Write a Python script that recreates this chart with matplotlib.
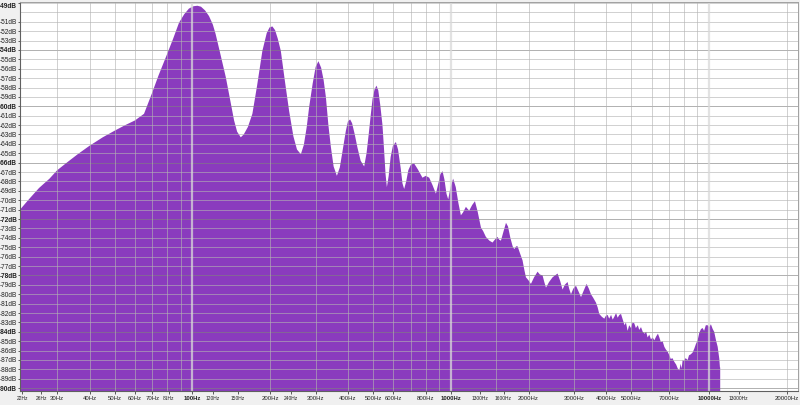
import numpy as np
import matplotlib.pyplot as plt
from matplotlib.ticker import FixedLocator, NullLocator

plt.rcParams['font.family'] = ['Liberation Sans', 'DejaVu Sans']

# spectrum: frequency (Hz) and level (dB)
freq = [21.53, 23.3, 25.5, 28, 30, 33, 36, 40, 45, 50, 55, 60, 65,
        69.8, 74, 78.9, 84, 88.8, 93, 97, 101, 104.6, 108, 112, 116, 120,
        123, 128, 134.7, 140, 145, 149, 153.9, 158, 164, 170.7, 178, 186.6,
        194, 199, 204, 209, 214, 219.9, 228, 236.8, 246, 254, 262.9, 270,
        277, 283, 292, 300, 307.5, 315, 322, 328.5, 336, 343.4, 352, 362.4,
        372, 382, 392.6, 400, 407.8, 415, 425, 435.3, 448, 462.1, 472, 482,
        490.6, 498, 507, 515.7, 524, 533, 544, 552, 559, 565.8, 575, 585,
        597, 613, 625, 640, 650, 660, 672, 685, 700.8, 721.8, 745, 777, 800,
        824.9, 850, 875.7, 895, 912, 928.8, 945, 962, 977, 998, 1021, 1045,
        1070, 1094, 1115, 1144, 1160, 1178, 1210, 1240, 1270, 1308, 1335,
        1367, 1410, 1450, 1490, 1516, 1540, 1563, 1600, 1635, 1665, 1700,
        1735, 1760, 1790, 1813, 1850, 1895, 1925, 1953, 1995, 2042, 2100,
        2166, 2210, 2265, 2300, 2335, 2400, 2476, 2530, 2589, 2650, 2707,
        2760, 2830, 2870, 2917, 2980, 3050, 3120, 3190, 3270, 3352, 3420,
        3486, 3560, 3646, 3700, 3754, 3840, 3926, 3980, 4043, 4100, 4170,
        4230, 4292, 4360, 4420, 4490, 4556, 4640, 4700, 4760, 4832, 4900,
        4980, 5050, 5129, 5200, 5290, 5360, 5444, 5530, 5620, 5700, 5774,
        5860, 5950, 6040, 6132, 6230, 6330, 6411, 6500, 6600, 6703, 6800,
        6900, 7008, 7100, 7200, 7328, 7450, 7550, 7662, 7750, 7820, 7889,
        7990, 8100, 8249, 8350, 8480, 8624, 8750, 8880, 9018, 9150, 9296,
        9430, 9550, 9700, 9858, 10000, 10150, 10310, 10450, 10620, 10780,
        10940, 11000, 11025]
level = [-71.0, -69.9, -68.7, -67.7, -66.8, -65.9, -65.1, -64.2, -63.3,
         -62.6, -62.0, -61.5, -60.8,
         -58.6, -56.7, -54.8, -52.9, -51.1, -50.2, -49.6, -49.35, -49.3,
         -49.4, -49.8, -50.4, -51.3,
         -52.3, -54.3, -56.9, -59.3, -61.5, -62.7, -63.3, -63.0, -62.2,
         -60.8, -57.8, -54.1,
         -52.2, -51.6, -51.5, -51.9, -52.8, -54.1, -57.3, -60.5, -63.2,
         -64.6, -65.1, -64.1,
         -62.2, -60.1, -57.6, -55.8, -55.2, -55.9, -57.2, -59.0, -62.0,
         -64.3, -66.4, -67.4,
         -66.5, -64.6, -62.6, -61.6, -61.4, -61.8, -63.0, -64.4, -65.8,
         -66.4, -65.0, -62.8,
         -60.8, -59.2, -58.2, -57.8, -58.3, -59.8, -62.0, -64.7, -67.2,
         -68.6, -67.4, -65.4,
         -64.2, -63.8, -64.6, -66.6, -68.2, -68.8, -68.0, -66.8, -66.2,
         -66.1, -66.7, -67.6, -67.4,
         -67.6, -68.4, -69.3, -68.2, -67.2, -66.9, -67.8, -69.3, -69.9,
         -68.6, -67.7, -68.6,
         -70.3, -71.6, -71.3, -70.7, -70.9, -71.1, -70.5, -70.1, -71.2,
         -72.9, -73.3,
         -73.9, -74.3, -74.5, -74.1, -73.9, -74.2, -74.3, -73.3, -72.4,
         -72.8, -74.0,
         -74.9, -75.2, -74.9, -74.9, -75.6, -76.4, -77.4, -78.2, -78.5,
         -78.9, -78.2,
         -77.6, -77.9, -78.0, -78.7, -79.3, -78.7, -78.2, -78.0, -77.8,
         -78.6, -79.5,
         -79.0, -78.7, -79.4, -80.0, -79.4, -79.1, -79.7, -80.3, -79.6,
         -78.9, -79.4,
         -80.0, -80.4, -80.9, -81.4, -82.1, -82.4, -82.6, -82.3, -82.2,
         -82.6, -82.2,
         -82.7, -82.4, -82.0, -82.5, -82.2, -82.1, -82.8, -83.3, -83.0,
         -83.9, -83.3,
         -83.6, -83.0, -83.1, -83.6, -83.3, -83.8, -83.5, -84.0, -84.2,
         -84.0, -84.6,
         -84.3, -84.8, -84.6, -84.9, -84.5, -84.2, -84.6, -85.1, -85.0,
         -85.6, -85.9,
         -86.1, -86.5, -86.9, -86.8, -87.2, -87.5, -87.9, -88.1, -87.4,
         -87.9, -87.0,
         -87.1, -86.8, -87.0, -86.5, -86.4, -86.2, -85.8, -85.3, -84.9,
         -84.1, -83.7,
         -83.6, -83.9, -83.3, -83.3, -83.5, -83.2, -83.7, -84.0, -84.9,
         -85.6,
         -86.9, -87.8, -87.8]

# axis labels
db_ticks = [-49] + list(range(-51, -91, -1))
db_bold = [-49, -54, -60, -66, -72, -78, -84, -90]
hz_ticks = [22, 26, 30, 40, 50, 60, 70, 81, 100, 120, 150, 200, 240, 300,
            400, 500, 600, 800, 1000, 1300, 1600, 2000, 3000, 4000, 5000,
            7000, 10000, 13000, 20000]
hz_small = [22, 26, 81, 120, 150, 240, 1300, 1600, 13000]
hz_bold = [100, 1000, 10000]
vgrid = [30, 40, 50, 60, 70, 80, 90, 200, 300, 400, 500, 600, 700, 800, 900,
         1500, 2000, 3000, 4000, 5000, 6000, 7000, 8000, 9000, 20000]
vgrid_major = [100, 1000, 10000]

fig = plt.figure(figsize=(8, 4.05), dpi=100, facecolor='#f0f0f0')
ax = fig.add_axes([20/800, 14/405, 778/800, 389/405])
ax.set_facecolor('white')

f = np.array(freq + [11025])
d = np.array(level + [-100])
ax.fill_between(f, d, -100, color='#8a3bbe', linewidth=0, zorder=1)

# grid on top of the fill
for v in range(-49, -91, -1):
    if v in db_bold[1:]:
        ax.axhline(v, color=(0.5, 0.5, 0.5), alpha=0.6, lw=0.72, zorder=2)
    else:
        ax.axhline(v, color=(0.7, 0.7, 0.7), alpha=0.6, lw=0.72, zorder=2)
for v in vgrid:
    ax.axvline(v, color=(0.7, 0.7, 0.7), alpha=0.6, lw=0.72, zorder=2)
for v in vgrid_major:
    ax.axvline(v, color=(0.85, 0.85, 0.85), alpha=0.75, lw=1.6, zorder=2)

ax.set_xscale('log')
ax.set_xlim(21.53, 22050)
ax.set_ylim(-90.3, -48.9)

ax.xaxis.set_major_locator(FixedLocator(hz_ticks))
ax.xaxis.set_minor_locator(NullLocator())
ax.set_xticklabels([f'{t}Hz' for t in hz_ticks])
ax.yaxis.set_major_locator(FixedLocator(db_ticks))
ax.yaxis.set_minor_locator(NullLocator())
ax.set_yticklabels([f'{t}dB' for t in db_ticks])

ax.tick_params(axis='both', length=2, width=0.6, color='#404040', pad=0.5,
               labelcolor='#202020')
ax.tick_params(axis='x', labelsize=4.3, pad=1.5)
ax.tick_params(axis='y', labelsize=4.7, length=1.5)
for t, lab in zip(hz_ticks, ax.get_xticklabels()):
    if t in hz_small:
        lab.set_fontsize(3.5)
    if t in hz_bold:
        lab.set_fontweight('bold')
for t, lab in zip(db_ticks, ax.get_yticklabels()):
    if t in db_bold:
        lab.set_fontweight('bold')
    if t == -49:
        lab.set_verticalalignment('top')

for s in ['top', 'right']:
    ax.spines[s].set_color('#a0a0a0')
    ax.spines[s].set_linewidth(0.7)
for s in ['left', 'bottom']:
    ax.spines[s].set_color('#606060')
    ax.spines[s].set_linewidth(0.8)

plt.savefig('out.png', dpi=100, facecolor=fig.get_facecolor())
plt.close('all')
